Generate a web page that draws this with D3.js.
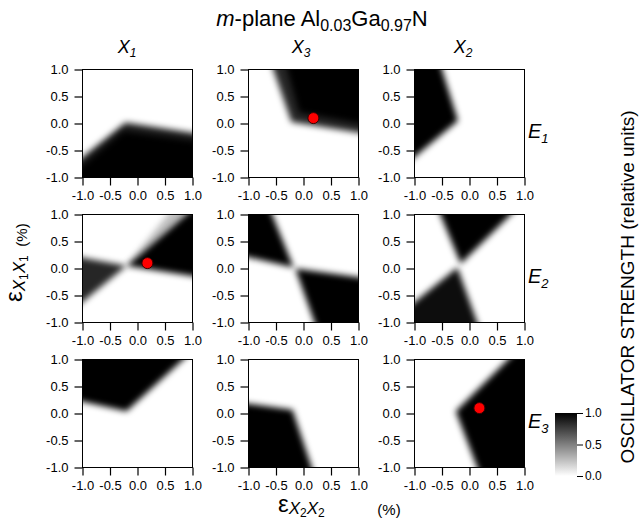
<!DOCTYPE html>
<html><head><meta charset="utf-8">
<script src="https://cdn.jsdelivr.net/npm/d3@7"></script>
<style>body{margin:0;background:#fff} svg text{font-family:"Liberation Sans",Arial,sans-serif;fill:#000}</style>
</head><body><svg id="c" width="639" height="531"></svg>
<script>
// ---- data ----
const rowLabels = ["E1", "E2", "E3"];
const colLabels = ["X1", "X3", "X2"];
const tickValues = [-1.0, -0.5, 0.0, 0.5, 1.0];
const cbarTicks = [0.0, 0.5, 1.0];
const marker = [0.18, 0.1];               // strain point (eps_x2x2, eps_x1x1)
const markerPanels = [[0, 1], [1, 0], [2, 2]]; // [row, col]
// dark (high oscillator strength) regions: vertices [eps_x2x2, eps_x1x1], level
const E1_X1 = [
  {level: 0.88, pts: [[-1, -0.62], [-0.22, 0.02], [1, -0.17], [1, -1], [-1, -1]]},
  {level: 1.0,  pts: [[-1, -0.78], [-0.25, -0.14], [1, -0.32], [1, -1], [-1, -1]]}
];
const E1_X3 = [
  {level: 0.85, pts: [[-0.55, 1], [-0.22, 0.03], [1, -0.17], [1, 1]]},
  {level: 1.0,  pts: [[-0.3, 1], [-0.08, 0.2], [1, 0.0], [1, 1]]}
];
const E1_X2 = [
  {level: 1.0, pts: [[-1, 1], [-0.5, 1], [-0.21, 0.05], [-1, -0.62]]}
];
const E2_X1 = [
  {level: 0.25, pts: [[-0.2, 0.05], [0.55, 1], [0.88, 1]]},
  {level: 1.0,  pts: [[-0.2, 0.05], [0.88, 1], [1, 1], [1, -0.14]]},
  {level: 0.85, pts: [[-0.2, 0.05], [-1, 0.2], [-1, -0.62]]}
];
const E2_X3 = [
  {level: 1.0, pts: [[-1, 1], [-0.57, 1], [-0.18, 0.02], [-1, 0.21]]},
  {level: 1.0, pts: [[-0.15, 0.0], [1, -0.16], [1, -1], [0.2, -1]]}
];
const E2_X2 = [
  {level: 1.0, pts: [[-0.53, 1], [-0.16, 0.09], [0.75, 1]]},
  {level: 0.95, pts: [[-0.22, 0.02], [-1, -0.62], [-1, -1], [0.14, -1]]}
];
const E3_X1 = [
  {level: 1.0, pts: [[-1, 1], [0.83, 1], [-0.2, 0.04], [-1, 0.22]]}
];
const E3_X3 = [
  {level: 1.0, pts: [[-1, -1], [-1, 0.18], [-0.2, 0.07], [0.15, -1]]}
];
const E3_X2 = [
  {level: 1.0, pts: [[0.7, 1], [1, 1], [1, -1], [0.14, -1], [-0.25, 0.04]]}
];
const panels = [[E1_X1, E1_X3, E1_X2], [E2_X1, E2_X3, E2_X2], [E3_X1, E3_X3, E3_X2]];

// ---- layout ----
const svg = d3.select("#c");
const colX = [82.5, 248.5, 414.5], rowY = [69.5, 214.5, 359.5], W = 110, H = 108;
const x = d3.scaleLinear().domain([-1, 1]).range([0, W]);
const y = d3.scaleLinear().domain([-1, 1]).range([H, 0]);
const gray = d3.scaleLinear().domain([0, 1]).range(["#ffffff", "#000000"]);
const fmt = d => d.toFixed(1);

const defs = svg.append("defs");
defs.append("filter").attr("id", "soft").attr("x", "-30%").attr("y", "-30%")
  .attr("width", "160%").attr("height", "160%")
  .append("feGaussianBlur").attr("stdDeviation", 3);

// push vertices lying on the frame outward so blur does not fade at the frame
function extendPoly(pts) {
  const n = pts.length, E = 1.5;
  return pts.map((p, i) => {
    const bx = Math.abs(p[0]) >= 1, by = Math.abs(p[1]) >= 1;
    if (!bx && !by) return p;
    if (bx && by) return [Math.sign(p[0]) * E, Math.sign(p[1]) * E];
    const prev = pts[(i - 1 + n) % n], next = pts[(i + 1) % n];
    const same = q => bx ? q[0] === p[0] : q[1] === p[1];
    const q = !same(prev) ? prev : (!same(next) ? next : null);
    if (!q) return bx ? [Math.sign(p[0]) * E, p[1]] : [p[0], Math.sign(p[1]) * E];
    const dx = p[0] - q[0], dy = p[1] - q[1];
    const t = bx ? (Math.sign(p[0]) * E - q[0]) / dx : (Math.sign(p[1]) * E - q[1]) / dy;
    return [q[0] + dx * t, q[1] + dy * t];
  });
}
const line = d3.line().x(d => x(d[0])).y(d => y(d[1])).curve(d3.curveLinearClosed);

panels.forEach((row, r) => row.forEach((regions, c) => {
  const g = svg.append("g").attr("transform", `translate(${colX[c]},${rowY[r]})`);
  const cid = `clip${r}${c}`;
  defs.append("clipPath").attr("id", cid).append("rect")
    .attr("x", 0).attr("y", 0).attr("width", W).attr("height", H);
  const map = g.append("g").attr("clip-path", `url(#${cid})`);
  map.append("rect").attr("width", W).attr("height", H).attr("fill", "#fff");
  map.selectAll("path").data(regions).join("path")
    .attr("d", d => line(extendPoly(d.pts)))
    .attr("fill", "#000").attr("fill-opacity", d => d.level)
    .attr("filter", "url(#soft)");
  if (markerPanels.some(m => m[0] === r && m[1] === c)) {
    g.append("circle").attr("cx", x(marker[0])).attr("cy", y(marker[1])).attr("r", 5.5)
      .attr("fill", "#ff0000").attr("stroke", "#3a0000").attr("stroke-width", 1);
  }
  g.append("rect").attr("width", W).attr("height", H).attr("fill", "none")
    .attr("stroke", "#000").attr("stroke-width", 1);
  const ax = g.append("g").attr("transform", `translate(0,${H})`)
    .call(d3.axisBottom(x).tickValues(tickValues).tickFormat(fmt).tickSize(8).tickPadding(5));
  const ay = g.append("g")
    .call(d3.axisLeft(y).tickValues(tickValues).tickFormat(fmt).tickSize(8).tickPadding(6));
  [ax, ay].forEach(a => {
    a.select(".domain").remove();
    a.selectAll("line").attr("stroke", "#000").attr("stroke-width", 1.2);
    a.selectAll("text").attr("font-size", 13).attr("font-family", "Liberation Sans, Arial, sans-serif");
  });
}));

// title
const title = svg.append("text").attr("x", 322).attr("y", 26).attr("text-anchor", "middle").attr("font-size", 22);
title.append("tspan").attr("font-style", "italic").text("m");
title.append("tspan").text("-plane Al");
title.append("tspan").attr("font-size", 16).attr("dy", 5).text("0.03");
title.append("tspan").attr("dy", -5).text("Ga");
title.append("tspan").attr("font-size", 16).attr("dy", 5).text("0.97");
title.append("tspan").attr("dy", -5).text("N");

// column headers
const colHX = [127, 301, 463];
colLabels.forEach((l, i) => {
  const t = svg.append("text").attr("x", colHX[i]).attr("y", 53).attr("text-anchor", "middle")
    .attr("font-size", 18).attr("font-style", "italic");
  t.append("tspan").text(l[0]);
  t.append("tspan").attr("font-size", 12).attr("dy", 4).text(l[1]);
});
// row labels
rowLabels.forEach((l, i) => {
  const t = svg.append("text").attr("x", 528).attr("y", rowY[i] + 68)
    .attr("font-size", 20).attr("font-style", "italic");
  t.append("tspan").text(l[0]);
  t.append("tspan").attr("font-size", 13).attr("dy", 5).text(l[1]);
});

// y axis title
const yt = svg.append("text").attr("transform", "translate(22,302) rotate(-90)")
  .attr("text-anchor", "start").attr("font-size", 24);
yt.append("tspan").text("ε");
yt.append("tspan").attr("font-size", 17).attr("font-style", "italic").attr("dy", 3).text("X");
yt.append("tspan").attr("font-size", 12).attr("dy", 3).text("1");
yt.append("tspan").attr("font-size", 17).attr("font-style", "italic").attr("dy", -3).text("X");
yt.append("tspan").attr("font-size", 12).attr("dy", 3).text("1");
svg.append("text").attr("transform", "translate(27,235) rotate(-90)").attr("text-anchor", "middle")
  .attr("font-size", 15).text("(%)");

// x axis title
const xt = svg.append("text").attr("x", 278).attr("y", 512).attr("font-size", 24);
xt.append("tspan").text("ε");
xt.append("tspan").attr("font-size", 17).attr("font-style", "italic").attr("dy", 2).text("X");
xt.append("tspan").attr("font-size", 12).attr("dy", 3).text("2");
xt.append("tspan").attr("font-size", 17).attr("font-style", "italic").attr("dy", -3).text("X");
xt.append("tspan").attr("font-size", 12).attr("dy", 3).text("2");
svg.append("text").attr("x", 389).attr("y", 515).attr("text-anchor", "middle")
  .attr("font-size", 15).text("(%)");

// colour bar
const grad = defs.append("linearGradient").attr("id", "cb").attr("x1", 0).attr("y1", 1).attr("x2", 0).attr("y2", 0);
d3.range(0, 1.01, 0.25).forEach(v => grad.append("stop").attr("offset", v).attr("stop-color", gray(v)));
const cbY = d3.scaleLinear().domain([0, 1]).range([476, 413]);
svg.append("rect").attr("x", 555).attr("y", 413).attr("width", 22).attr("height", 63).attr("fill", "url(#cb)");
const cax = svg.append("g").attr("transform", "translate(577,0)")
  .call(d3.axisRight(cbY).tickValues(cbarTicks).tickFormat(fmt).tickSize(6).tickPadding(2));
cax.select(".domain").remove();
cax.selectAll("text").attr("font-size", 12);
cax.selectAll("line").attr("stroke", "#000");

// right label
svg.append("text").attr("transform", "translate(634,287) rotate(-90)").attr("text-anchor", "middle")
  .attr("font-size", 19).text("OSCILLATOR STRENGTH (relative units)");
</script></body></html>
